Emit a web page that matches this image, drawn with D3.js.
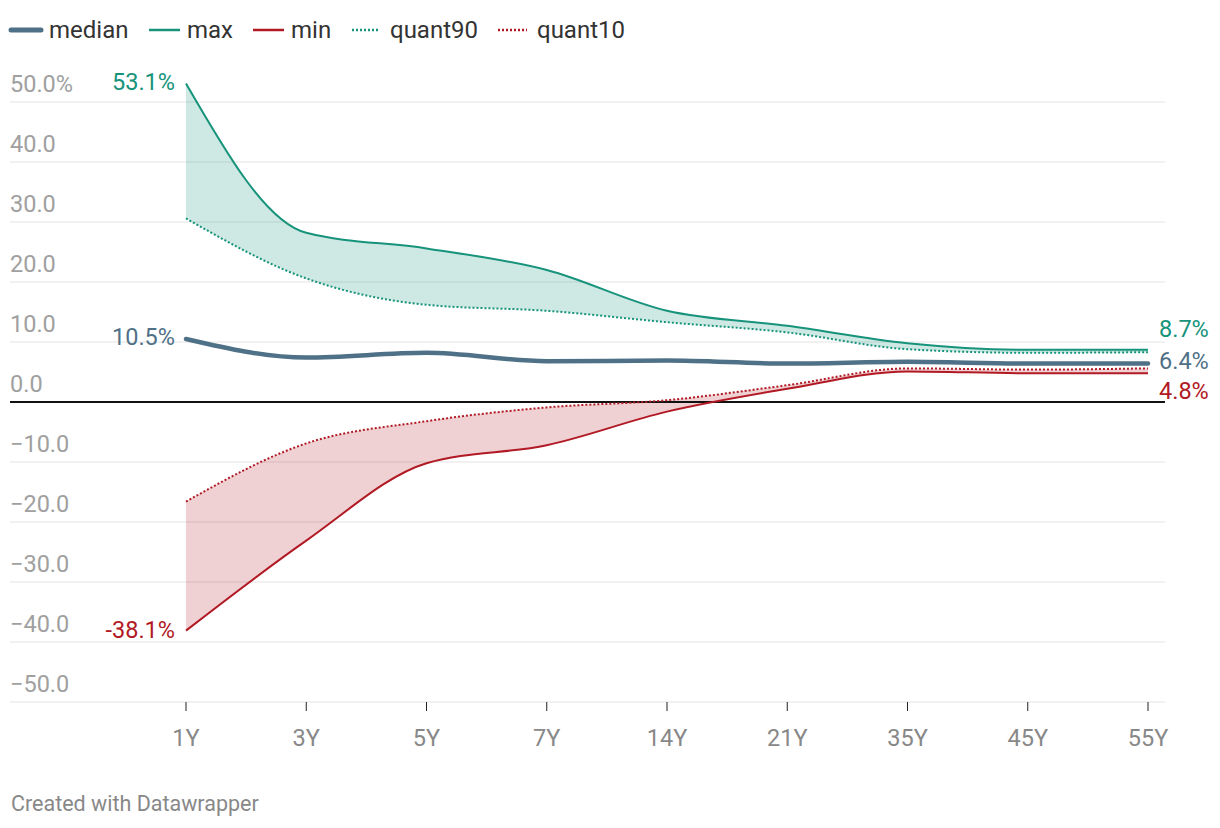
<!DOCTYPE html>
<html><head><meta charset="utf-8">
<script src="https://cdn.jsdelivr.net/npm/d3@7"></script>
<style>
body{margin:0;background:#fff;font-family:Roboto,"Noto Sans",sans-serif;}
svg{display:block;}
</style></head>
<body><svg id="c" width="1220" height="828"></svg>
<script>
const categories = ["1Y","3Y","5Y","7Y","14Y","21Y","35Y","45Y","55Y"];
const median  = [10.5, 7.4, 8.2, 6.8, 6.9, 6.4, 6.7, 6.4, 6.4];
const maxV    = [53.1, 28.2, 25.6, 22.0, 15.2, 12.7, 9.8, 8.7, 8.7];
const minV    = [-38.1, -23.1, -10.2, -7.2, -1.6, 2.2, 5.1, 4.8, 4.8];
const quant90 = [30.6, 20.6, 16.2, 15.2, 13.3, 11.6, 8.8, 8.2, 8.3];
const quant10 = [-16.6, -6.9, -3.2, -0.9, 0.3, 2.8, 5.6, 5.4, 5.6];
const yTicks  = [50, 40, 30, 20, 10, 0, -10, -20, -30, -40, -50];
const seriesNames = ["median", "max", "min", "quant90", "quant10"];

const GREEN = "#16937a", RED = "#b11a24", BLUE = "#4f7187";
const svg = d3.select("#c");
const x = d3.scalePoint().domain(categories).range([186, 1148]);
const y = d3.scaleLinear().domain([-50, 50]).range([702, 102]);
const L = 10, R = 1165;

// gridlines + y labels
const g = svg.append("g");
yTicks.forEach(t => {
  if (t !== 0) g.append("line").attr("x1", L).attr("x2", R).attr("y1", y(t)).attr("y2", y(t))
    .attr("stroke", "#e3e3e3").attr("stroke-width", 1);
  const lab = t === 50 ? "50.0%" : (t < 0 ? "\u2212" + Math.abs(t).toFixed(1) : t.toFixed(1));
  g.append("text").attr("x", L).attr("y", y(t) - 10).text(lab)
    .attr("fill", "#a0a0a0").attr("font-size", 23.5);
});

// x axis ticks & labels
const xa = svg.append("g");
categories.forEach(c => {
  xa.append("line").attr("x1", x(c)).attr("x2", x(c)).attr("y1", y(-50)).attr("y2", y(-50) + 9)
    .attr("stroke", "#222").attr("stroke-width", 1);
  xa.append("text").attr("x", x(c)).attr("y", 746).attr("text-anchor", "middle").text(c)
    .attr("fill", "#888").attr("font-size", 23.5);
});

const idx = d3.range(categories.length);
const curve = d3.curveMonotoneX;
const area = (a, b) => d3.area().curve(curve).x(i => x(categories[i])).y0(i => y(b[i])).y1(i => y(a[i]))(idx);
const line = (a) => d3.line().curve(curve).x(i => x(categories[i])).y(i => y(a[i]))(idx);

svg.append("path").attr("d", area(maxV, quant90)).attr("fill", GREEN).attr("opacity", 0.21);
svg.append("path").attr("d", area(quant10, minV)).attr("fill", RED).attr("opacity", 0.2);

// zero line
svg.append("line").attr("x1", L).attr("x2", R).attr("y1", y(0)).attr("y2", y(0))
  .attr("stroke", "#111").attr("stroke-width", 2);

svg.append("path").attr("d", line(quant90)).attr("fill", "none").attr("stroke", GREEN).attr("stroke-width", 2).attr("stroke-dasharray", "2,2");
svg.append("path").attr("d", line(quant10)).attr("fill", "none").attr("stroke", RED).attr("stroke-width", 2).attr("stroke-dasharray", "2,2");
svg.append("path").attr("d", line(maxV)).attr("fill", "none").attr("stroke", GREEN).attr("stroke-width", 2);
svg.append("path").attr("d", line(minV)).attr("fill", "none").attr("stroke", RED).attr("stroke-width", 2);
svg.append("path").attr("d", line(median)).attr("fill", "none").attr("stroke", BLUE).attr("stroke-width", 4.5).attr("stroke-linecap", "round");

// value labels
const fmt = v => v.toFixed(1) + "%";
const n = categories.length - 1;
const lbl = (xx, yy, txt, col, anchor) => svg.append("text").attr("x", xx).attr("y", yy).attr("dy", "0.35em")
  .attr("text-anchor", anchor).attr("fill", col).attr("font-size", 23.5).text(txt);
lbl(x(categories[0]) - 11, y(maxV[0]) - 2, fmt(maxV[0]), GREEN, "end");
lbl(x(categories[0]) - 11, y(median[0]) - 2, fmt(median[0]), BLUE, "end");
lbl(x(categories[0]) - 11, y(minV[0]) - 1, fmt(minV[0]), RED, "end");
lbl(x(categories[n]) + 11, y(maxV[n]) - 21, fmt(maxV[n]), GREEN, "start");
lbl(x(categories[n]) + 11, y(median[n]) - 3, fmt(median[n]), BLUE, "start");
lbl(x(categories[n]) + 11, y(minV[n]) + 18, fmt(minV[n]), RED, "start");

// legend
const legendStyle = [
  {col: BLUE, w: 5, dash: null, sx: 11, sw: 30, tx: 49},
  {col: GREEN, w: 2.5, dash: null, sx: 149, sw: 31, tx: 187},
  {col: RED, w: 2.5, dash: null, sx: 253, sw: 31, tx: 291},
  {col: GREEN, w: 2.5, dash: "2,2", sx: 352, sw: 28, tx: 390},
  {col: RED, w: 2.5, dash: "2,2", sx: 498, sw: 29, tx: 537}
];
seriesNames.forEach((name, i) => {
  const d = legendStyle[i];
  svg.append("line").attr("x1", d.sx).attr("x2", d.sx + d.sw).attr("y1", 30).attr("y2", 30)
    .attr("stroke", d.col).attr("stroke-width", d.w).attr("stroke-linecap", d.w > 3 ? "round" : "butt")
    .attr("stroke-dasharray", d.dash);
  svg.append("text").attr("x", d.tx).attr("y", 30).attr("dy", "0.35em")
    .attr("fill", "#333").attr("font-size", 24).text(name);
});

svg.append("text").attr("x", 11).attr("y", 811).attr("fill", "#888").attr("font-size", 21.5)
  .text("Created with Datawrapper");
</script></body></html>
